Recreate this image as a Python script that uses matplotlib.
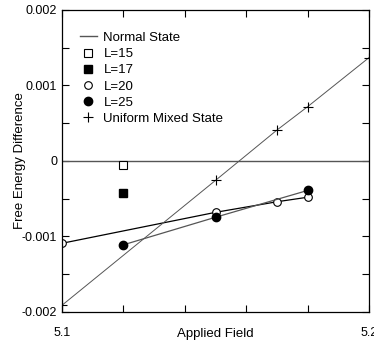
import matplotlib
matplotlib.use("Agg")
import matplotlib.pyplot as plt

plt.rcParams['font.family'] = ['Liberation Sans', 'DejaVu Sans']

normal_x = [5.1, 5.2]
normal_y = [0.0, 0.0]

l15_x = [5.12]
l15_y = [-0.00005]

l17_x = [5.12]
l17_y = [-0.00042]

l20_x = [5.10, 5.15, 5.17, 5.18]
l20_y = [-0.00109, -0.00068, -0.00054, -0.00048]

l25_x = [5.12, 5.15, 5.18]
l25_y = [-0.00111, -0.000745, -0.00039]

uniform_x = [5.10, 5.15, 5.17, 5.18, 5.20]
uniform_y = [-0.00191, -0.000256, 0.00041, 0.00072, 0.00137]

fig = plt.figure(figsize=(3.74, 3.43), dpi=100)
ax = fig.add_axes([0.166, 0.0904, 0.821, 0.8806])

fs = 9.5
ax.plot(normal_x, normal_y, color="#555555", lw=1.0, label="Normal State")
ax.plot(l15_x, l15_y, ls="none", marker="s", ms=5.8, mfc="white", mec="black", mew=0.8, label="L=15")
ax.plot(l17_x, l17_y, ls="none", marker="s", ms=5.8, mfc="black", mec="black", label="L=17")
ax.plot(l20_x, l20_y, color="black", lw=0.9, marker="o", ms=5.5, mfc="white", mec="black", mew=0.8, label="L=20")
ax.plot(l25_x, l25_y, color="#555555", lw=0.9, marker="o", ms=6, mfc="black", mec="black", label="L=25")
ax.plot(uniform_x, uniform_y, color="#555555", lw=0.7, marker="+", ms=6.5, mec="black", mew=0.8,
        label="Uniform Mixed State")

ax.set_xlim(5.1, 5.2)
ax.set_ylim(-0.002, 0.002)
ax.set_xticks([5.10, 5.12, 5.14, 5.16, 5.18, 5.20])
ax.set_xticklabels(["5.1", "", "", "", "", "5.2"])
ax.set_yticks([-0.002, -0.0015, -0.001, -0.0005, 0, 0.0005, 0.001, 0.0015, 0.002])
ax.set_yticklabels(["-0.002", "", "-0.001", "", "0", "", "0.001", "", "0.002"])
ax.tick_params(direction="in", length=5, width=0.8, top=True, right=True, labelsize=9)
ax.tick_params(axis="x", pad=11)
for s in ax.spines.values():
    s.set_linewidth(0.9)

ax.set_xlabel("Applied Field", fontsize=fs, labelpad=-8)
ax.set_ylabel("Free Energy Difference", fontsize=fs, labelpad=-3)

leg = ax.legend(loc="upper left", frameon=False, fontsize=fs, handlelength=1.3,
                handletextpad=0.5, labelspacing=0.3, bbox_to_anchor=(0.04, 0.945), borderaxespad=0)
for h in leg.legend_handles[1:]:
    h.set_linestyle("none")

fig.savefig("out.png", dpi=100)
